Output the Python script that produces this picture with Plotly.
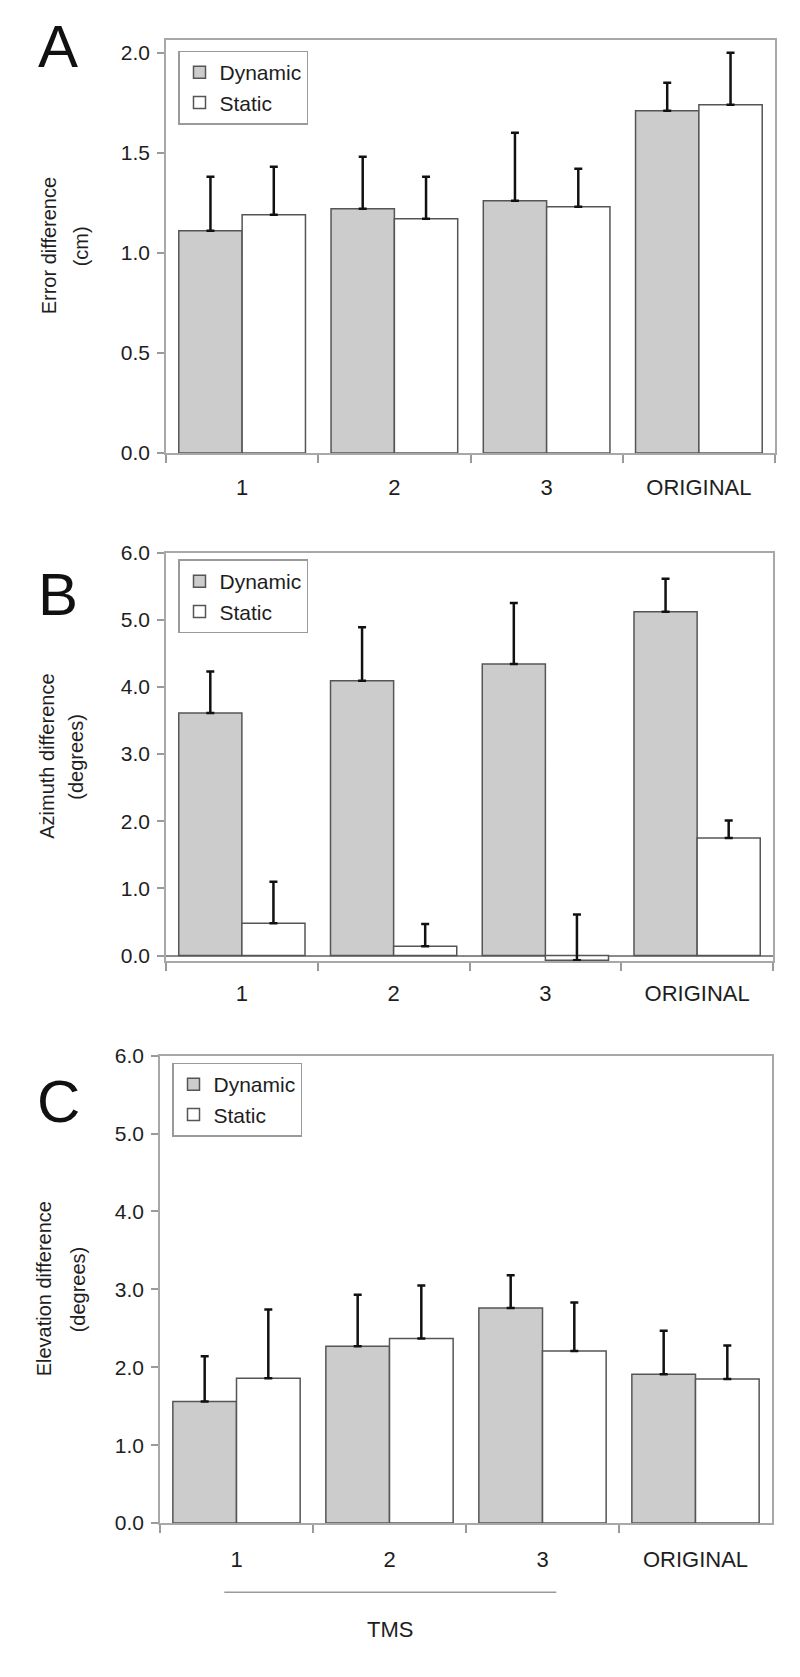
import plotly.graph_objects as go

# ---------------- data ----------------
categories = ["1", "2", "3", "ORIGINAL"]
series_names = ["Dynamic", "Static"]

error_dynamic = [1.11, 1.22, 1.26, 1.71]
error_dynamic_sd = [0.27, 0.26, 0.34, 0.14]
error_static = [1.19, 1.17, 1.23, 1.74]
error_static_sd = [0.24, 0.21, 0.19, 0.26]

azimuth_dynamic = [3.61, 4.09, 4.34, 5.12]
azimuth_dynamic_sd = [0.62, 0.80, 0.91, 0.49]
azimuth_static = [0.48, 0.14, -0.07, 1.75]
azimuth_static_sd = [0.62, 0.33, 0.68, 0.26]

elevation_dynamic = [1.56, 2.27, 2.76, 1.91]
elevation_dynamic_sd = [0.58, 0.66, 0.42, 0.56]
elevation_static = [1.86, 2.37, 2.21, 1.85]
elevation_static_sd = [0.88, 0.68, 0.62, 0.43]

panel_letters = ["A", "B", "C"]
ytitle_line1 = ["Error difference", "Azimuth difference", "Elevation difference"]
ytitle_line2 = ["(cm)", "(degrees)", "(degrees)"]
group_label = "TMS"

# ---------------- layout geometry (pixels) ----------------
W, H = 800, 1677
FONT = "Liberation Sans, Arial, sans-serif"
TXT = "#1e1e1e"


def fx(p):
    return p / W


def fy(p):
    return 1 - p / H


panels = [
    dict(x0=158, x1=767, top=20, bottom=439, yrange=[0, 2.065], dtick=0.5,
         dyn=error_dynamic, dyn_sd=error_dynamic_sd, sta=error_static, sta_sd=error_static_sd,
         letter_xy=(50, 27), t1x=41, t2x=73, leg_top=31, standoff=14),
    dict(x0=158, x1=765, top=540, bottom=954, yrange=[-0.08, 6.0], dtick=1.0,
         dyn=azimuth_dynamic, dyn_sd=azimuth_dynamic_sd, sta=azimuth_static, sta_sd=azimuth_static_sd,
         letter_xy=(50, 582), t1x=39, t2x=68, leg_top=547, standoff=12),
    dict(x0=152, x1=764, top=1050, bottom=1524, yrange=[0, 6.0], dtick=1.0,
         dyn=elevation_dynamic, dyn_sd=elevation_dynamic_sd, sta=elevation_static, sta_sd=elevation_static_sd,
         letter_xy=(50, 1097), t1x=36, t2x=70, leg_top=1057, standoff=16),
]

fig = go.Figure()
annotations = []
shapes = []
layout_axes = {}

for i, p in enumerate(panels):
    n = i + 1
    xa = "x" if n == 1 else f"x{n}"
    ya = "y" if n == 1 else f"y{n}"
    leg = "legend" if n == 1 else f"legend{n}"
    for name, vals, sds, fill in [
        (series_names[0], p["dyn"], p["dyn_sd"], "#cccccc"),
        (series_names[1], p["sta"], p["sta_sd"], "#ffffff"),
    ]:
        fig.add_trace(go.Bar(
            x=categories, y=vals, name=name, xaxis=xa, yaxis=ya, legend=leg,
            marker=dict(color=fill, line=dict(color="#555555", width=1.5)),
            error_y=dict(type="data", symmetric=False, array=sds,
                         arrayminus=[0] * len(sds), color="#111111",
                         thickness=2.5, width=4),
        ))

    xkey = "xaxis" if n == 1 else f"xaxis{n}"
    ykey = "yaxis" if n == 1 else f"yaxis{n}"
    layout_axes[xkey] = dict(
        domain=[fx(p["x0"]), fx(p["x1"])], anchor=ya, type="category",
        categoryorder="array", categoryarray=categories,
        tickson="boundaries", ticks="outside", ticklen=8, tickcolor="#9a9a9a",
        tickwidth=1.5, showline=True, mirror=True, linecolor="#a8a8a8", linewidth=1.5,
        showgrid=False, tickfont=dict(family=FONT, size=22, color=TXT),
        ticklabelstandoff=p["standoff"],
    )
    layout_axes[ykey] = dict(
        domain=[fy(p["bottom"]), fy(p["top"])], anchor=xa, range=p["yrange"],
        tick0=0, dtick=p["dtick"], tickformat=".1f", ticks="outside", ticklen=7,
        tickcolor="#9a9a9a", tickwidth=1.5, showline=True, mirror=True,
        linecolor="#a8a8a8", linewidth=1.5, showgrid=False,
        zeroline=(p["yrange"][0] < 0), zerolinecolor="#8a8a8a", zerolinewidth=1.5,
        tickfont=dict(family=FONT, size=21, color=TXT), ticklabelstandoff=3,
    )
    layout_axes[leg] = dict(
        x=fx(p["x0"] + 12), y=fy(p["leg_top"]), xanchor="left", yanchor="top",
        bgcolor="#ffffff", bordercolor="#9a9a9a", borderwidth=1.5,
        font=dict(family=FONT, size=21, color=TXT), tracegroupgap=0,
        itemwidth=30,
    )
    lx, ly = p["letter_xy"]
    annotations.append(dict(text=panel_letters[i], x=fx(lx), y=fy(ly), xref="paper", yref="paper",
                            showarrow=False, xanchor="center", yanchor="middle",
                            font=dict(family=FONT, size=60, color="#111111")))
    ymid = (p["top"] + p["bottom"]) / 2
    annotations.append(dict(text=ytitle_line1[i], x=fx(p["t1x"]), y=fy(ymid), xref="paper",
                            yref="paper", showarrow=False, textangle=-90,
                            xanchor="center", yanchor="middle",
                            font=dict(family=FONT, size=20, color=TXT)))
    annotations.append(dict(text=ytitle_line2[i], x=fx(p["t2x"]), y=fy(ymid), xref="paper",
                            yref="paper", showarrow=False, textangle=-90,
                            xanchor="center", yanchor="middle",
                            font=dict(family=FONT, size=20, color=TXT)))

# TMS bracket under panel C (tied to the category axis)
shapes.append(dict(type="line", xref="x3", yref="paper", x0=-0.08, x1=2.09,
                   y0=fy(1594), y1=fy(1594), line=dict(color="#9a9a9a", width=1.5)))
annotations.append(dict(text=group_label, xref="x3", yref="paper", x=1, y=fy(1632),
                        showarrow=False, xanchor="center", yanchor="middle",
                        font=dict(family=FONT, size=22, color=TXT)))

fig.update_layout(
    width=W, height=H, margin=dict(l=0, r=0, t=0, b=0),
    paper_bgcolor="#ffffff", plot_bgcolor="#ffffff",
    barmode="group", bargap=0.168, bargroupgap=0.0,
    annotations=annotations, shapes=shapes, showlegend=True,
    font=dict(family=FONT, color=TXT),
    **layout_axes,
)

fig.write_html("out.html")
